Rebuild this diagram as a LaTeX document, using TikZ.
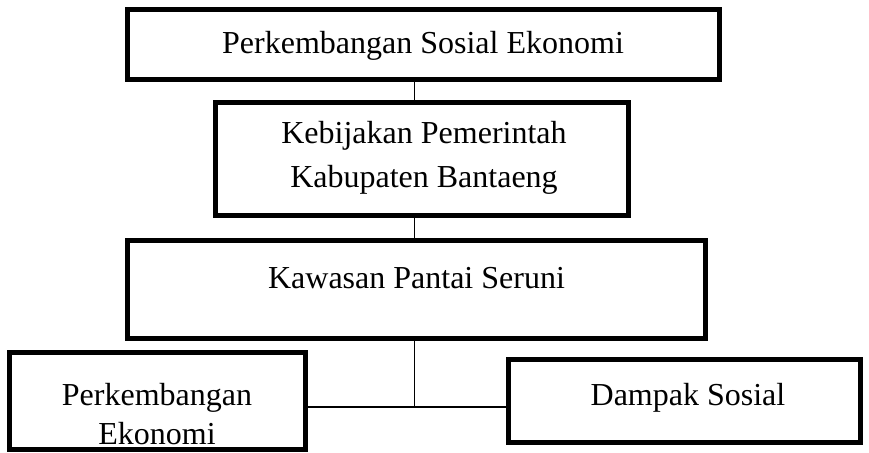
\documentclass[tikz,border=0pt]{standalone}
\usepackage{fontspec}
\setmainfont{Liberation Serif}
\usetikzlibrary{positioning}

\begin{document}
\begin{tikzpicture}[
            x = 0.5pt, y = -0.5pt, % pixel grid
            box/.style = {draw, rectangle, line width = 2.5pt, inner sep = 0pt, outer sep = 0pt},
            txt/.style = {align = center, inner sep = 0pt, font = \fontsize{16}{22}\selectfont},
            link/.style = {line width = 0.65pt}
        ]
        \useasboundingbox (0,0) rectangle (869,452);

	% boxes
        \node[box, minimum width = 295.75pt, minimum height = 34.75pt] (PSE) at (423.25,44.25) {};
        \node[box, minimum width = 206.25pt, minimum height = 56.5pt] (KBP) at (421.75,159) {};
        \node[box, minimum width = 289pt, minimum height = 49pt] (KPS) at (416.5,289.5) {};
        \node[box, minimum width = 148pt, minimum height = 48.75pt] (PE) at (157.5,400.75) {};
        \node[box, minimum width = 176pt, minimum height = 41.5pt] (DS) at (684,400.5) {};

        % texts
        \node[txt] (tPSE) at (423,45.5) {Perkembangan Sosial Ekonomi};
        \node[txt] (tKBP) at (424,157.5) {Kebijakan Pemerintah\\Kabupaten Bantaeng};
        \node[txt] (tKPS) at (416.5,278) {Kawasan Pantai Seruni};
        \node[txt, font = \fontsize{16}{19.5}\selectfont] (tPE) at (157,413.7) {Perkembangan\\Ekonomi};
        \node[txt] (tDS) at (688,397.5) {Dampak Sosial};

        % connectors
        \coordinate (hub) at (414.5,407);
        \draw[link] (PSE.south -| hub) -- (KBP.north -| hub);
        \draw[link] (KBP.south -| hub) -- (KPS.north -| hub);
        \draw[link] (KPS.south -| hub) -- (hub);
        \draw[link] (PE.east |- hub) -- (DS.west |- hub);

\end{tikzpicture}
\end{document}
